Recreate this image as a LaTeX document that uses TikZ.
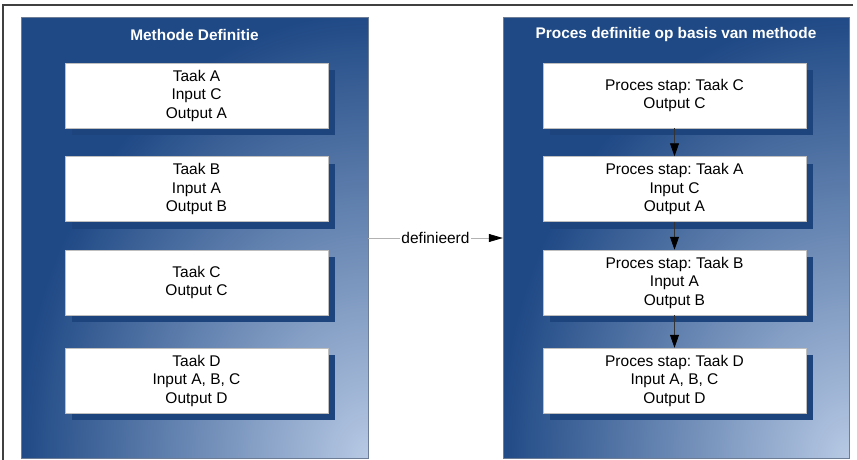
\documentclass[tikz,border=0pt]{standalone}
\usepackage{fontspec}
\setmainfont{Liberation Sans}
\usetikzlibrary{shadows,arrows.meta}
\definecolor{pdark}{RGB}{31,73,133}
\definecolor{plight}{RGB}{183,201,228}
\definecolor{shadowblue}{RGB}{30,68,125}
\definecolor{pborder}{RGB}{110,125,150}
\begin{document}
\frenchspacing
\begin{tikzpicture}[x=1pt,y=-1pt,
  font=\fontsize{15.5}{18.5}\selectfont,
  panel/.style={minimum width=#1, minimum height=440pt, inner sep=0pt,
    fill=pdark,
    path picture={\shade[inner color=plight, outer color=pdark]
      (path picture bounding box.south east) ellipse [x radius=350pt, y radius=445pt];}},
  paneltitle/.style={text=white, font=\fontsize{15.4}{18}\selectfont\bfseries},
  box/.style={draw=gray!50, line width=0.5pt, fill=white,
    minimum width=263pt, minimum height=65pt, inner sep=0pt, align=center,
    drop shadow={shadow xshift=7pt, shadow yshift=-7pt, fill=shadowblue, opacity=1}},
  flow/.style={draw=black!80, line width=0.8pt, -{Triangle[length=13pt,width=9pt,color=black]}},
  defarrow/.style={draw=gray!60, line width=0.8pt, -{Triangle[length=14pt,width=8pt,color=black]}}
]
\useasboundingbox (0,0) rectangle (857,460);
% frame
\coordinate (fTL) at (3,5);
\coordinate (fTR) at (853,5);
\coordinate (fBL) at (3,460);
\draw[black!75, line width=1.2pt] (fTR) -- (fTL) -- (fBL);

% panels
\node[panel=347pt] (L) at (194.5,238) {};
\node[panel=346pt] (R) at (676,238) {};
\draw[pborder, line width=0.6pt] (L.south west) rectangle (L.north east);
\draw[pborder, line width=0.6pt] (R.south west) rectangle (R.north east);
\node[paneltitle] (Lt) at (194.5,35) {Methode Definitie};
\node[paneltitle] (Rt) at (676,35) {Proces definitie op basis van methode};

% left boxes
\node[box] (la) at (196.5,95.5) {Taak A\\Input C\\Output A};
\node[box] (lb) at (196.5,189) {Taak B\\Input A\\Output B};
\node[box] (lc) at (196.5,282.5) {Taak C\\Output C};
\node[box] (ld) at (196.5,380.5) {Taak D\\Input A, B, C\\Output D};

% right boxes
\node[box] (ra) at (674.5,95.5) {Proces stap: Taak C\\Output C};
\node[box] (rb) at (674.5,189) {Proces stap: Taak A\\Input C\\Output A};
\node[box] (rc) at (674.5,282.5) {Proces stap: Taak B\\Input A\\Output B};
\node[box] (rd) at (674.5,380.5) {Proces stap: Taak D\\Input A, B, C\\Output D};

% flows
\draw[flow] (ra) -- (rb);
\draw[flow] (rb) -- (rc);
\draw[flow] (rc) -- (rd);

% definieerd
\draw[defarrow] (L) -- node[fill=white, inner sep=1pt, text=black] {definieerd} (R);
\end{tikzpicture}
\end{document}
